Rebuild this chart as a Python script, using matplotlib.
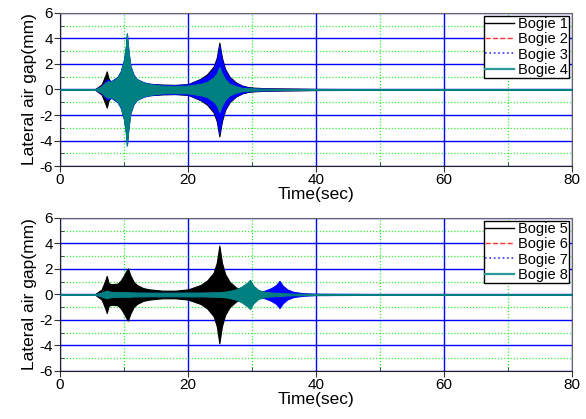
import matplotlib
matplotlib.use("Agg")
import matplotlib.pyplot as plt
from matplotlib.lines import Line2D
from matplotlib.ticker import MultipleLocator
import numpy as np

plt.rcParams['font.family'] = ['Liberation Sans', 'DejaVu Sans']
plt.rcParams['axes.unicode_minus'] = False

# ---- data: oscillation envelopes (amplitude, mm) ----
t_top = [0, 5.5, 6.5, 7.0, 7.3, 7.6, 8.0, 9.0, 9.5, 10.0, 10.3, 10.45, 10.7, 11.0, 11.5,
         12.0, 13.0, 14.0, 16.0, 18.0, 20.0, 22.0, 23.0, 24.0, 24.5, 24.9, 25.3, 25.8,
         26.5, 27.5, 28.5, 29.5, 30.5, 32.0, 35.0, 40.0, 50.0, 80.0]
bogie1 = [0, 0.03, 0.4, 1.0, 1.42, 0.85, 0.55, 0.65, 0.9, 1.3, 1.8, 2.2, 1.6, 1.2, 0.8,
          0.6, 0.5, 0.45, 0.38, 0.36, 0.42, 0.85, 1.2, 1.8, 2.5, 3.68, 2.5, 1.6,
          1.0, 0.55, 0.3, 0.18, 0.14, 0.1, 0.07, 0.04, 0.03, 0.03]
bogie2 = [0, 0.03, 0.3, 0.6, 0.7, 0.7, 0.6, 0.9, 1.3, 2.0, 3.0, 3.8, 2.6, 1.6, 1.0,
          0.7, 0.5, 0.4, 0.3, 0.28, 0.3, 0.45, 0.6, 0.9, 1.2, 1.6, 1.2, 0.8,
          0.5, 0.3, 0.15, 0.1, 0.08, 0.06, 0.05, 0.03, 0.02, 0.02]
bogie3 = [0, 0.03, 0.3, 0.6, 0.8, 0.75, 0.65, 1.0, 1.45, 2.35, 3.4, 4.4, 3.0, 1.85, 1.15,
          0.82, 0.58, 0.45, 0.36, 0.35, 0.4, 0.8, 1.1, 1.65, 2.3, 3.45, 2.3, 1.5,
          0.92, 0.5, 0.27, 0.15, 0.1, 0.08, 0.06, 0.04, 0.03, 0.03]
bogie4 = [0, 0.02, 0.25, 0.5, 0.6, 0.65, 0.6, 0.95, 1.4, 2.3, 3.4, 4.38, 3.0, 1.8, 1.1,
          0.8, 0.55, 0.42, 0.3, 0.28, 0.3, 0.45, 0.6, 0.95, 1.25, 1.77, 1.25, 0.8,
          0.45, 0.25, 0.12, 0.1, 0.08, 0.06, 0.04, 0.03, 0.02, 0.02]

t_bot = [0, 5.5, 6.5, 7.0, 7.3, 7.6, 8.0, 9.0, 9.5, 10.0, 10.3, 10.6, 11.0, 11.5, 12.0,
         13.0, 14.0, 16.0, 18.0, 20.0, 22.0, 23.0, 24.0, 24.5, 24.9, 25.3, 25.8, 26.5,
         27.5, 28.5, 29.3, 29.7, 30.2, 31.0, 32.0, 33.0, 33.8, 34.3, 34.8, 35.5, 36.5,
         38.0, 40.0, 50.0, 80.0]
bogie5 = [0, 0.03, 0.4, 1.0, 1.46, 0.9, 0.8, 0.85, 1.1, 1.5, 1.8, 2.05, 1.5, 1.0, 0.75,
          0.5, 0.4, 0.3, 0.3, 0.4, 0.75, 1.1, 1.7, 2.5, 3.83, 2.5, 1.6, 1.0,
          0.55, 0.35, 0.25, 0.2, 0.15, 0.12, 0.1, 0.08, 0.07, 0.07, 0.06, 0.05, 0.05,
          0.04, 0.03, 0.03, 0.03]
bogie6 = [0, 0.02, 0.1, 0.15, 0.2, 0.15, 0.12, 0.1, 0.1, 0.1, 0.1, 0.1, 0.1, 0.1, 0.1,
          0.1, 0.1, 0.1, 0.1, 0.1, 0.12, 0.13, 0.15, 0.15, 0.15, 0.15, 0.15, 0.12,
          0.1, 0.1, 0.1, 0.1, 0.08, 0.08, 0.07, 0.06, 0.06, 0.06, 0.05, 0.05, 0.04,
          0.04, 0.03, 0.02, 0.02]
bogie7 = [0, 0.02, 0.15, 0.2, 0.25, 0.2, 0.15, 0.12, 0.12, 0.12, 0.12, 0.12, 0.12, 0.12, 0.12,
          0.12, 0.12, 0.12, 0.12, 0.12, 0.12, 0.12, 0.12, 0.12, 0.12, 0.12, 0.12, 0.12,
          0.12, 0.12, 0.12, 0.12, 0.15, 0.2, 0.3, 0.5, 0.75, 1.07, 0.7, 0.4, 0.2,
          0.1, 0.05, 0.03, 0.02]
bogie8 = [0, 0.02, 0.15, 0.25, 0.3, 0.25, 0.2, 0.18, 0.18, 0.18, 0.18, 0.18, 0.17, 0.16, 0.15,
          0.15, 0.14, 0.14, 0.14, 0.15, 0.15, 0.16, 0.17, 0.18, 0.18, 0.2, 0.22, 0.28,
          0.4, 0.65, 0.95, 1.15, 0.7, 0.35, 0.2, 0.15, 0.12, 0.12, 0.1, 0.08, 0.06,
          0.05, 0.04, 0.03, 0.02]

labels_top = ["Bogie 1", "Bogie 2", "Bogie 3", "Bogie 4"]
labels_bot = ["Bogie 5", "Bogie 6", "Bogie 7", "Bogie 8"]
x_ticks = [0, 20, 40, 60, 80]
y_ticks = [-6, -4, -2, 0, 2, 4, 6]

colors = ["#000000", "#ff0000", "#0000ff", "#008080"]
legend_colors = ["#000000", "#ff3333", "#3333ff", "#2a9a9a"]
styles = ["-", "--", ":", "-"]
widths = [1.0, 1.0, 1.2, 1.6]

fig = plt.figure(figsize=(5.86, 4.19), dpi=100)
ax1 = fig.add_axes([0.1024, 0.6038, 0.8737, 0.3652])
ax2 = fig.add_axes([0.1024, 0.1146, 0.8737, 0.3652])


def draw(ax, t, series, labels):
    t = np.asarray(t, dtype=float)
    for s, c in zip(series, colors):
        a = np.asarray(s, dtype=float)
        ax.fill_between(t, -a, a, color=c, lw=0.8, edgecolor=c, zorder=3)
    ax.set_xlim(0, 80)
    ax.set_ylim(-6, 6)
    ax.set_xticks(x_ticks)
    ax.set_yticks(y_ticks)
    ax.xaxis.set_minor_locator(MultipleLocator(10))
    ax.yaxis.set_minor_locator(MultipleLocator(1))
    ax.grid(which='major', color='#0000ff', lw=1.0, ls='-', zorder=1)
    ax.grid(which='minor', color='#33ee33', lw=0.9, ls=(0, (1, 1.5)), zorder=1)
    ax.set_axisbelow(True)
    ax.tick_params(which='major', direction='out', length=4, labelsize=11, pad=1,
                   color='#333333')
    ax.tick_params(which='minor', direction='in', length=3, color='#333333')
    for side in ['top', 'right']:
        ax.spines[side].set_color('#666666')
    for side in ['left', 'bottom']:
        ax.spines[side].set_color('#222222')
    ax.set_ylabel("Lateral air gap(mm)", fontsize=12.5, labelpad=2)
    ax.set_xlabel("Time(sec)", fontsize=12.5, labelpad=0)
    handles = [Line2D([0], [0], color=c, ls=ls, lw=w)
               for c, ls, w in zip(legend_colors, styles, widths)]
    leg = ax.legend(handles, labels, loc='upper right',
                    bbox_to_anchor=(0.995, 0.982), borderaxespad=0,
                    fontsize=10.5, frameon=True, fancybox=False, framealpha=1,
                    edgecolor='#000000', handlelength=2.0, handletextpad=0.25,
                    labelspacing=0.08, borderpad=0.1)
    leg.get_frame().set_linewidth(1.0)
    leg.set_zorder(10)


draw(ax1, t_top, [bogie1, bogie2, bogie3, bogie4], labels_top)
draw(ax2, t_bot, [bogie5, bogie6, bogie7, bogie8], labels_bot)

fig.savefig("out.png", dpi=100)
